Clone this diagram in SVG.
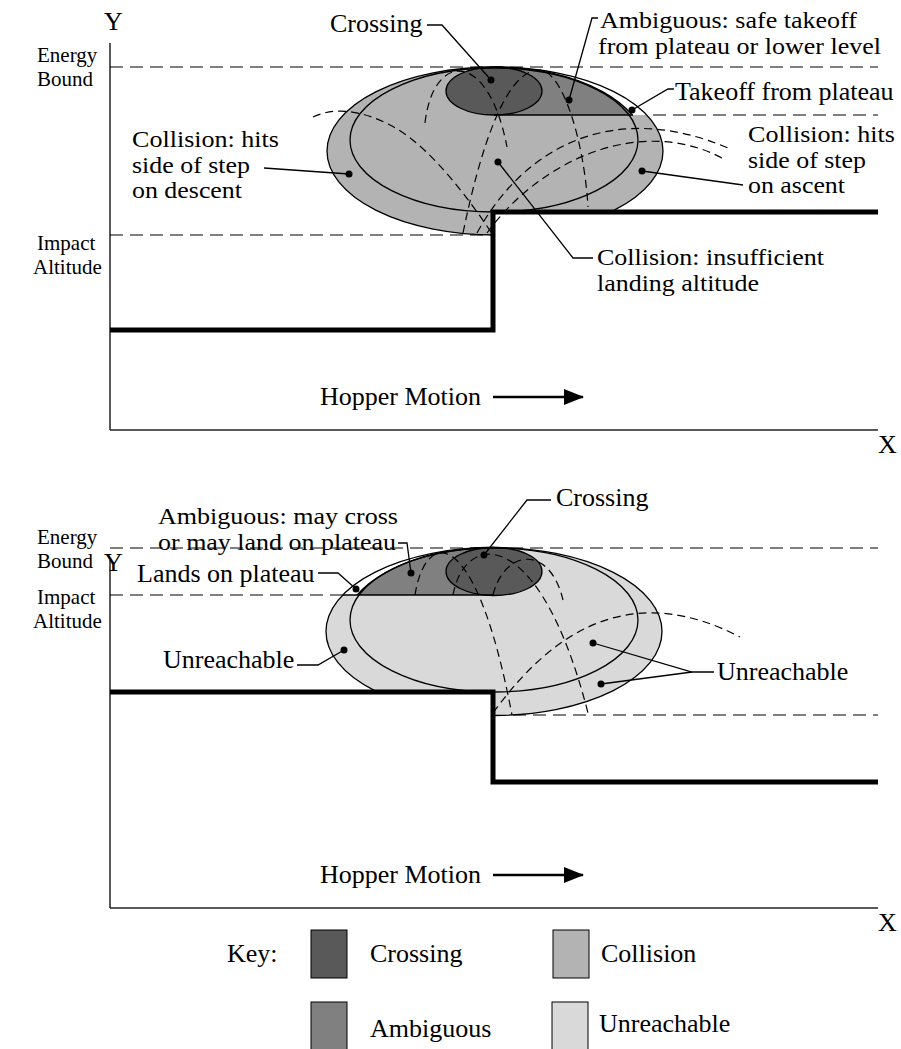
<svg xmlns="http://www.w3.org/2000/svg" width="901" height="1049" viewBox="0 0 901 1049">
<style>
text{font-family:"Liberation Serif","Times New Roman",serif;font-size:26px;fill:#000}
.sm{font-size:21px}
.ml{font-size:23px}
.ax{stroke:#222;stroke-width:1.5;fill:none}
.gr{stroke:#000;stroke-width:5;fill:none;stroke-linejoin:miter}
.dl{stroke:#000;stroke-width:1.2;stroke-dasharray:13 7;fill:none}
.tr{stroke:#000;stroke-width:1.2;stroke-dasharray:8 5;fill:none}
.ol{stroke:#000;stroke-width:1.3;fill:none}
.ld{stroke:#000;stroke-width:1.3;fill:none}
.dot{fill:#000}
.cr{fill:#595959}
.am{fill:#808080}
.co{fill:#b3b3b3}
.un{fill:#d9d9d9}
.sw{stroke:#000;stroke-width:1}
</style>
<defs>
<clipPath id="clipT"><path d="M0,0H901V212H493V1049H0Z"/></clipPath>
<clipPath id="ambT"><rect x="494" y="0" width="300" height="115"/></clipPath>
<clipPath id="clipB"><path d="M0,0H901V1049H493V692H0Z"/></clipPath>
<clipPath id="ambB"><rect x="200" y="400" width="294" height="195"/></clipPath>
<marker id="arr" markerWidth="20" markerHeight="16" refX="19" refY="8" orient="auto" markerUnits="userSpaceOnUse"><path d="M0,0L20,8L0,16Z" fill="#000"/></marker>
</defs>

<!-- ===== TOP DIAGRAM ===== -->
<g id="top-axes">
<line class="ax" x1="110" y1="43" x2="110" y2="430"/>
<line class="ax" x1="110" y1="430" x2="878" y2="430"/>
<text x="104" y="30">Y</text>
<text x="878" y="453">X</text>
</g>
<g id="top-levels">
<line class="dl" x1="110" y1="67" x2="878" y2="67"/>
<line class="dl" x1="110" y1="235" x2="492" y2="235"/>
<line class="dl" x1="633" y1="115" x2="878" y2="115"/>
<text class="sm" x="37" y="62">Energy</text>
<text class="sm" x="37" y="86">Bound</text>
<text class="sm" x="37" y="250">Impact</text>
<text class="sm" x="33" y="274">Altitude</text>
</g>
<g id="top-regions" clip-path="url(#clipT)">
<ellipse class="co" cx="495" cy="151" rx="168" ry="84"/>
<g clip-path="url(#ambT)">
<ellipse cx="495" cy="151" rx="168" ry="84" fill="#fff"/>
<ellipse class="am" cx="495" cy="151" rx="152" ry="84" stroke="#000" stroke-width="1.3"/>
</g>
<ellipse class="cr" cx="494" cy="91" rx="48" ry="24" stroke="#000" stroke-width="1.3"/>
<ellipse class="ol" cx="494" cy="140" rx="144" ry="72"/>
<line class="ol" x1="494" y1="115" x2="633" y2="115"/>
<ellipse class="ol" cx="495" cy="151" rx="168" ry="84"/>
</g>
<g id="top-trajectories">
<path class="tr" d="M313,117 Q345,102 390,125 T493,235"/>
<path class="tr" d="M425,123 C433,52 488,48 507,147"/>
<path class="tr" d="M463,233 C480,150 505,72 538,70 C562,68 584,140 588,207"/>
<path class="tr" d="M477,233 C525,145 615,100 728,148"/>
<path class="tr" d="M487,233 C540,160 640,115 722,158"/>
</g>
<g id="top-ground">
<polyline class="gr" points="110,330 493,330 493,212 878,212"/>
</g>
<g id="top-motion">
<text x="320" y="405">Hopper Motion</text>
<line x1="493" y1="397" x2="583" y2="397" stroke="#000" stroke-width="2.5" marker-end="url(#arr)"/>
</g>
<g id="top-labels">
<text x="330" y="32">Crossing</text>
<text class="ml" x="600" y="28" textLength="257" lengthAdjust="spacingAndGlyphs">Ambiguous: safe takeoff</text>
<text class="ml" x="598" y="53.5" textLength="283" lengthAdjust="spacingAndGlyphs">from plateau or lower level</text>
<text x="675" y="100">Takeoff from plateau</text>
<text class="ml" x="748" y="142" textLength="147" lengthAdjust="spacingAndGlyphs">Collision: hits</text>
<text class="ml" x="748" y="167.5" textLength="118" lengthAdjust="spacingAndGlyphs">side of step</text>
<text class="ml" x="748" y="193" textLength="97" lengthAdjust="spacingAndGlyphs">on ascent</text>
<text class="ml" x="132" y="147" textLength="147" lengthAdjust="spacingAndGlyphs">Collision: hits</text>
<text class="ml" x="132" y="172.5" textLength="118" lengthAdjust="spacingAndGlyphs">side of step</text>
<text class="ml" x="132" y="198" textLength="110" lengthAdjust="spacingAndGlyphs">on descent</text>
<text class="ml" x="597" y="265" textLength="227" lengthAdjust="spacingAndGlyphs">Collision: insufficient</text>
<text class="ml" x="597" y="290.5" textLength="162" lengthAdjust="spacingAndGlyphs">landing altitude</text>
</g>

<!-- ===== BOTTOM DIAGRAM ===== -->
<g id="bot-axes">
<line class="ax" x1="110" y1="560" x2="110" y2="908"/>
<line class="ax" x1="110" y1="908" x2="878" y2="908"/>
<text x="104" y="571">Y</text>
<text x="878" y="931">X</text>
</g>
<g id="bot-levels">
<line class="dl" x1="110" y1="548" x2="878" y2="548"/>
<line class="dl" x1="110" y1="595" x2="343" y2="595"/>
<line class="dl" x1="493" y1="715" x2="878" y2="715"/>
<text class="sm" x="37" y="544">Energy</text>
<text class="sm" x="37" y="568">Bound</text>
<text class="sm" x="37" y="604">Impact</text>
<text class="sm" x="33" y="628">Altitude</text>
</g>
<g id="bot-regions" clip-path="url(#clipB)">
<ellipse class="un" cx="494" cy="631.5" rx="168" ry="84"/>
<g clip-path="url(#ambB)">
<ellipse cx="494" cy="631.5" rx="168" ry="84" fill="#fff"/>
<ellipse class="am" cx="494" cy="631.5" rx="152" ry="84" stroke="#000" stroke-width="1.3"/>
</g>
<ellipse class="cr" cx="494" cy="571.5" rx="48" ry="24" stroke="#000" stroke-width="1.3"/>
<ellipse class="ol" cx="494" cy="620" rx="144" ry="72"/>
<line class="ol" x1="343" y1="595" x2="494" y2="595"/>
<ellipse class="ol" cx="494" cy="631.5" rx="168" ry="84"/>
</g>
<g id="bot-trajectories">
<path class="tr" d="M415,595 C425,530 475,520 512,715"/>
<path class="tr" d="M453,595 C465,530 540,525 588,713"/>
<path class="tr" d="M493,595 C505,548 550,545 563,600"/>
<path class="tr" d="M493,713 C560,620 640,585 740,637"/>
</g>
<g id="bot-ground">
<polyline class="gr" points="110,692 493,692 493,782 878,782"/>
</g>
<g id="bot-motion">
<text x="320" y="883">Hopper Motion</text>
<line x1="493" y1="875" x2="583" y2="875" stroke="#000" stroke-width="2.5" marker-end="url(#arr)"/>
</g>
<g id="bot-labels">
<text class="ml" x="158" y="524" textLength="240" lengthAdjust="spacingAndGlyphs">Ambiguous: may cross</text>
<text class="ml" x="158" y="549.5" textLength="238" lengthAdjust="spacingAndGlyphs">or may land on plateau</text>
<text x="556" y="506">Crossing</text>
<text x="137" y="582">Lands on plateau</text>
<text x="163" y="668">Unreachable</text>
<text x="717" y="680">Unreachable</text>
</g>

<!-- ===== CONNECTORS ===== -->
<g id="connectors">
<polyline class="ld" points="427,25 442,25 491,80"/><circle class="dot" cx="491" cy="80" r="3.5"/>
<polyline class="ld" points="598,18 592,18 569,100"/><circle class="dot" cx="569" cy="100" r="3.5"/>
<polyline class="ld" points="632,110 668,89 674,89"/><circle class="dot" cx="632" cy="110" r="3.5"/>
<line class="ld" x1="642" y1="171" x2="743" y2="185"/><circle class="dot" cx="642" cy="171" r="3.5"/>
<line class="ld" x1="264" y1="168" x2="349" y2="174"/><circle class="dot" cx="349" cy="174" r="3.5"/>
<polyline class="ld" points="498,162 573,258 593,258"/><circle class="dot" cx="498" cy="162" r="3.5"/>
<polyline class="ld" points="398,543 407,543 411,573"/><circle class="dot" cx="411" cy="573" r="3.5"/>
<polyline class="ld" points="484,555 527,500 551,500"/><circle class="dot" cx="484" cy="555" r="3.5"/>
<polyline class="ld" points="318,573 338,573 356,589"/><circle class="dot" cx="356" cy="589" r="3.5"/>
<polyline class="ld" points="297,665 318,665 344,650"/><circle class="dot" cx="344" cy="650" r="3.5"/>
<polyline class="ld" points="593,643 692,672 714,672"/><line class="ld" x1="601" y1="684" x2="692" y2="672"/>
<circle class="dot" cx="593" cy="643" r="3.5"/><circle class="dot" cx="601" cy="684" r="3.5"/>
</g>

<!-- ===== KEY ===== -->
<g id="key">
<text x="227" y="962">Key:</text>
<rect class="cr sw" x="311" y="930" width="36" height="48"/>
<text x="370" y="962">Crossing</text>
<rect class="co sw" x="553" y="930" width="36" height="48"/>
<text x="601" y="962">Collision</text>
<rect class="am sw" x="311" y="1002" width="36" height="48"/>
<text x="370" y="1037">Ambiguous</text>
<rect class="un sw" x="552" y="1002" width="36" height="48"/>
<text x="599" y="1032">Unreachable</text>
</g>
</svg>
